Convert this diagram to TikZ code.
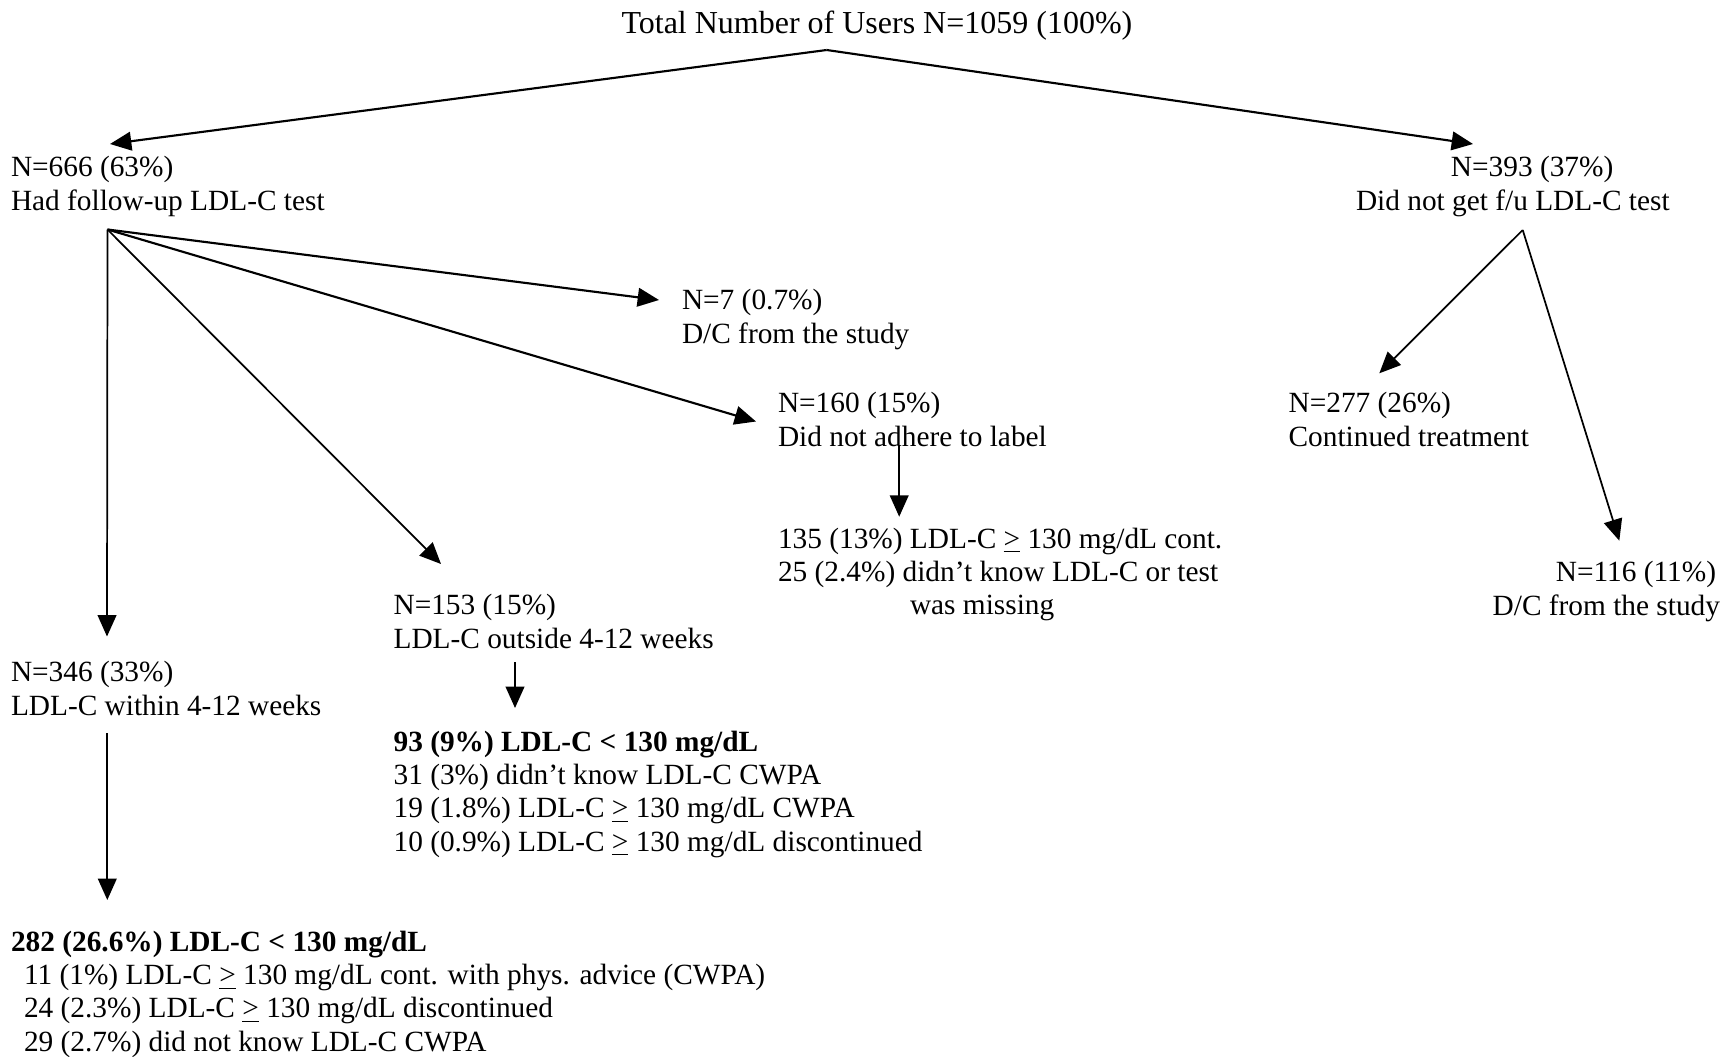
\documentclass[tikz,border=0pt]{standalone}
\usepackage{fontspec}
\setmainfont{Liberation Serif}
\usetikzlibrary{arrows.meta}

% stacked text lines, baseline on the first line
\newcommand\txtlines[2][l]{\begin{tabular}[t]{@{}#1@{}}#2\end{tabular}}
\newcommand\gte{\underline{>}}

\begin{document}
\begin{tikzpicture}[x=0.375pt,y=-0.375pt,
  lbl/.style={inner sep=0pt,outer sep=0pt,anchor=base west,
    font=\fontsize{11}{13}\selectfont},
  lst/.style={lbl,font=\fontsize{11}{12.5}\selectfont},
  head/.style={inner sep=0pt,outer sep=0pt,anchor=base west,
    font=\fontsize{12}{14}\selectfont},
  flow/.style={line width=0.8pt,-{Triangle[length=8pt,width=7pt]}},
  thinflow/.style={line width=0.65pt,-{Triangle[length=8pt,width=7pt]}}]

\useasboundingbox (0,0) rectangle (1724,1056);

% ---- texts ----
\node[head] (total) at (621.5,34) {Total Number of Users N=1059 (100\%)};

\node[lbl] (n666) at (11,176) {\txtlines{N=666 (63\%)\\Had follow-up LDL-C test}};
\node[lbl] (n393) at (1356,176) {\txtlines{\hspace*{35.6pt}N=393 (37\%)\\Did not get f/u LDL-C test}};

\node[lbl] (n7) at (682,309) {\txtlines{N=7 (0.7\%)\\D/C from the study}};
\node[lbl] (n160) at (778,412) {\txtlines{N=160 (15\%)\\Did not adhere to label}};
\node[lbl] (n277) at (1288.6,412) {\txtlines{N=277 (26\%)\\Continued treatment}};

\node[lst] (n135) at (778,548) {\txtlines{135 (13\%) LDL-C \gte{} 130 mg/dL cont.\\
  25 (2.4\%) didn’t know LDL-C or test\\\hspace*{49.5pt}was missing}};
\node[lbl,anchor=base east] (n116) at (1720,581)
  {\txtlines[r]{N=116 (11\%)\hspace*{1.5pt}\\D/C from the study}};

\node[lbl] (n153) at (393.6,614) {\txtlines{N=153 (15\%)\\LDL-C outside 4-12 weeks}};
\node[lbl] (n346) at (11,681) {\txtlines{N=346 (33\%)\\LDL-C within 4-12 weeks}};

\node[lst] (n93) at (393.6,751) {\txtlines{\textbf{93 (9\%) LDL-C < 130 mg/dL}\\
  31 (3\%) didn’t know LDL-C CWPA\\
  19 (1.8\%) LDL-C \gte{} 130 mg/dL CWPA\\
  10 (0.9\%) LDL-C \gte{} 130 mg/dL discontinued}};

\node[lst] (n282) at (11,951) {\txtlines{\textbf{282 (26.6\%) LDL-C < 130 mg/dL}\\
  \hspace*{4.9pt}11 (1\%) LDL-C \gte{} 130 mg/dL cont. with phys. advice (CWPA)\\
  \hspace*{4.9pt}24 (2.3\%) LDL-C \gte{} 130 mg/dL discontinued\\
  \hspace*{4.9pt}29 (2.7\%) did not know LDL-C CWPA}};

% ---- connector ends, tied to their texts ----
\coordinate (apex) at ([shift={(205.2,16)}]total.base west);
\coordinate (in666) at ([shift={(99,-32)}]n666.base west);
\coordinate (out666) at ([shift={(96.5,53.5)}]n666.base west);
\coordinate (in393) at ([shift={(117,-32)}]n393.base west);
\coordinate (out393) at ([shift={(166.7,54)}]n393.base west);
\coordinate (in7) at ([shift={(-23,-9)}]n7.base west);
\coordinate (in160) at ([shift={(-22,9.5)}]n160.base west);
\coordinate (out160) at ([shift={(121.2,33)}]n160.base west);
\coordinate (in135) at ([shift={(121.2,-31.3)}]n135.base west);
\coordinate (in277) at ([shift={(90.7,-38.7)}]n277.base west);
\coordinate (in116) at ([shift={(-100.7,-40.3)}]n116.base east);
\coordinate (in153) at ([shift={(47.4,-50)}]n153.base west);
\coordinate (out153) at ([shift={(121.4,48)}]n153.base west);
\coordinate (in93) at ([shift={(121.4,-43)}]n93.base west);
\coordinate (in346) at ([shift={(96,-44.5)}]n346.base west);
\coordinate (out346) at ([shift={(96.3,52.3)}]n346.base west);
\coordinate (in282) at ([shift={(96.3,-51)}]n282.base west);

% ---- connectors ----
\draw[flow] (apex) -- (in666);
\draw[flow] (apex) -- (in393);

\draw[flow] (out666) -- (in7);
\draw[flow] (out666) -- (in160);
\draw[thinflow] (out666) -- (in153);
\draw[thinflow] (out666) -- (in346);

\draw[thinflow] (out393) -- (in277);
\draw[thinflow] (out393) -- (in116);

\draw[thinflow] (out160) -- (in135);
\draw[thinflow] (out153) -- (in93);
\draw[thinflow] (out346) -- (in282);
\end{tikzpicture}
\end{document}
